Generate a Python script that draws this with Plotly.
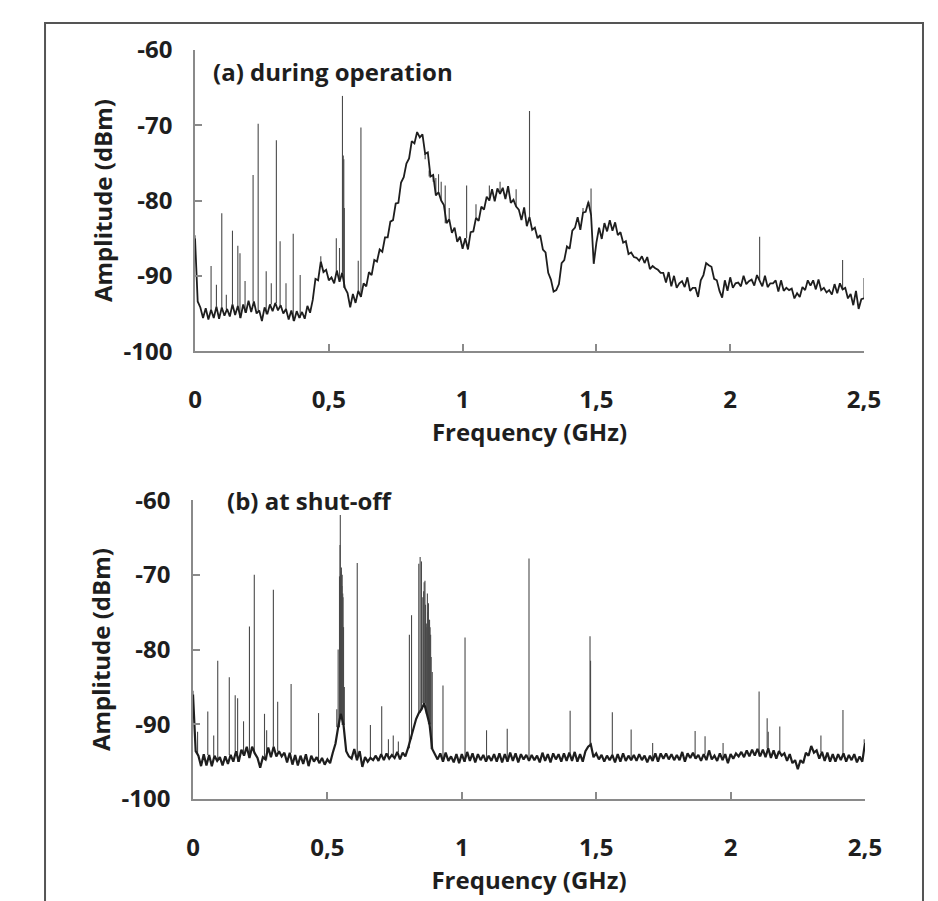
import plotly.graph_objects as go
from plotly.subplots import make_subplots

# sweep grid of the analyser traces (GHz)
FREQ_STEP = 0.01

# (a) during operation, broadband trace (dBm), one value per FREQ_STEP from 0 to 2.5 GHz
op_trace = [
    -85.0, -93.4, -94.2, -95.6, -94.3, -95.8, -94.5, -95.6, -94.1, -95.7,
    -94.2, -95.3, -94.4, -95.4, -93.8, -95.2, -94.0, -95.6, -93.8, -94.9,
    -93.3, -94.8, -93.4, -95.0, -94.6, -96.0, -94.2, -95.1, -93.8, -94.7,
    -93.6, -94.6, -93.9, -95.0, -94.4, -95.8, -94.6, -96.0, -94.7, -95.6,
    -94.8, -95.7, -94.0, -94.9, -93.2, -90.4, -90.6, -88.1, -89.5, -89.2,
    -90.6, -90.2, -91.0, -89.3, -90.8, -89.6, -91.6, -92.3, -94.2, -92.4,
    -93.6, -92.0, -92.8, -91.0, -91.4, -89.5, -89.9, -87.9, -88.1, -86.5,
    -86.8, -84.9, -84.9, -82.8, -82.6, -80.4, -80.3, -77.6, -76.9, -75.1,
    -74.4, -72.1, -72.4, -70.9, -71.6, -71.2, -73.8, -73.6, -76.8, -76.6,
    -79.3, -78.9, -80.0, -80.6, -83.0, -82.5, -84.3, -83.6, -85.5, -84.8,
    -86.4, -85.0, -86.5, -84.2, -84.1, -82.3, -82.7, -80.8, -81.2, -79.5,
    -80.0, -78.5, -80.1, -78.4, -79.1, -78.3, -79.8, -78.1, -80.3, -79.9,
    -80.8, -81.2, -82.6, -80.9, -83.4, -82.2, -83.9, -83.6, -85.0, -84.6,
    -86.5, -86.9, -89.6, -90.5, -92.1, -91.9, -91.1, -88.3, -87.9, -86.1,
    -86.4, -84.0, -83.6, -82.2, -83.9, -81.6, -81.5, -80.2, -81.9, -88.4,
    -85.6, -83.6, -85.1, -83.0, -84.1, -82.6, -84.0, -82.9, -84.6, -84.2,
    -85.6, -85.4, -87.1, -86.9, -87.5, -87.6, -88.0, -87.4, -88.3, -87.5,
    -89.1, -88.7, -89.0, -89.2, -89.6, -89.6, -90.9, -89.5, -91.4, -90.0,
    -91.6, -91.0, -90.7, -91.5, -90.2, -92.0, -91.6, -91.6, -92.8, -90.6,
    -89.9, -88.3, -88.6, -88.8, -90.4, -90.6, -92.0, -92.9, -90.6, -92.0,
    -90.2, -91.6, -91.0, -90.9, -91.4, -90.0, -91.1, -90.7, -90.5, -91.3,
    -89.9, -90.6, -91.4, -90.0, -91.5, -91.0, -91.0, -90.6, -92.1, -90.6,
    -92.0, -91.6, -91.9, -91.7, -93.0, -92.3, -92.8, -91.5, -91.9, -90.6,
    -91.3, -90.6, -91.8, -90.5, -91.9, -91.6, -92.2, -91.9, -92.5, -91.1,
    -92.3, -91.0, -91.8, -91.6, -93.0, -92.4, -93.9, -92.0, -94.4, -93.1,
    -93.0,
]

# (a) narrow spurious lines: frequency (GHz) and peak (dBm)
op_spike_f = [0.0, 0.06, 0.08, 0.10, 0.117, 0.14, 0.16, 0.168, 0.187, 0.217,
              0.236, 0.266, 0.285, 0.304, 0.318, 0.34, 0.367, 0.393, 0.47, 0.528,
              0.54, 0.551, 0.554, 0.556, 0.558, 0.61, 0.62, 0.86, 0.875, 0.89,
              0.90, 0.91, 0.92, 0.935, 0.95, 1.015, 1.05, 1.10, 1.14, 1.20,
              1.25, 1.45, 1.47, 1.48, 2.11, 2.42, 2.5]
op_spike_top = [-84.6, -88.7, -91.2, -81.7, -92.5, -84.0, -86.0, -87.0, -90.7, -76.6,
                -69.8, -89.4, -91.0, -72.0, -85.4, -91.0, -84.4, -89.9, -87.4, -85.0,
                -86.3, -66.1, -74.0, -74.5, -81.0, -88.0, -70.3, -74.5, -76.0, -77.5,
                -77.0, -76.5, -77.5, -78.0, -81.0, -78.0, -80.5, -78.0, -77.5, -78.5,
                -68.1, -81.0, -80.0, -78.4, -84.8, -87.9, -90.3]

# (b) at shut-off, noise floor trace (dBm)
off_trace = [
    -86.0, -93.6, -94.2, -95.6, -94.0, -95.5, -94.1, -95.6, -94.2, -94.9,
    -94.4, -95.5, -94.3, -95.3, -94.1, -95.0, -93.6, -95.0, -93.4, -94.2,
    -93.0, -94.5, -93.0, -93.9, -94.5, -95.8, -94.4, -94.7, -93.1, -94.4,
    -93.0, -94.3, -93.6, -94.3, -93.8, -95.1, -93.8, -95.4, -94.1, -95.5,
    -94.2, -95.3, -94.0, -95.6, -94.2, -95.0, -94.4, -95.2, -94.5, -95.4,
    -94.7, -95.2, -93.8, -92.6, -90.4, -88.6, -90.1, -93.6, -94.3, -94.6,
    -93.3, -94.8, -93.6, -95.7, -94.4, -95.0, -94.5, -94.8, -94.2, -94.9,
    -94.0, -94.8, -93.9, -94.6, -94.1, -94.5, -93.7, -94.7, -93.8, -94.3,
    -93.2, -92.0, -90.5, -89.3, -88.5, -88.0, -87.2, -88.6, -90.0, -93.3,
    -94.0, -94.7, -93.9, -95.0, -93.8, -94.9, -94.3, -95.1, -94.0, -95.2,
    -94.0, -95.0, -93.7, -94.9, -93.9, -95.1, -94.0, -94.8, -94.1, -95.0,
    -94.2, -94.9, -94.0, -95.0, -93.9, -95.1, -94.0, -95.0, -93.8, -94.9,
    -93.9, -95.1, -94.0, -94.7, -94.1, -94.9, -94.1, -94.8, -94.2, -95.1,
    -93.8, -94.9, -94.0, -95.1, -93.9, -94.7, -94.0, -95.0, -93.9, -94.9,
    -93.8, -94.9, -93.7, -95.0, -94.0, -95.0, -93.6, -93.0, -92.7, -94.4,
    -93.9, -94.7, -94.1, -95.0, -94.2, -94.8, -94.1, -95.1, -94.0, -95.0,
    -93.9, -94.9, -94.2, -94.8, -94.1, -94.9, -94.0, -94.8, -94.2, -95.1,
    -94.2, -94.9, -93.9, -95.0, -93.9, -94.6, -93.9, -94.7, -94.0, -94.8,
    -94.1, -94.8, -93.7, -95.0, -93.9, -94.5, -93.8, -94.6, -94.1, -94.9,
    -94.0, -94.8, -93.5, -94.7, -94.2, -94.9, -93.9, -94.8, -94.0, -95.2,
    -94.0, -94.6, -93.9, -94.3, -93.7, -94.4, -93.5, -94.3, -93.4, -94.2,
    -93.3, -94.3, -93.4, -94.4, -93.2, -94.5, -93.5, -94.6, -93.6, -94.2,
    -93.9, -94.9, -94.0, -95.2, -94.8, -96.0, -94.8, -95.2, -93.8, -94.2,
    -92.9, -93.8, -93.5, -94.6, -93.7, -94.9, -93.8, -95.0, -94.0, -95.0,
    -94.0, -94.8, -93.9, -95.0, -94.1, -94.8, -94.0, -95.1, -94.3, -95.0,
    -92.5,
]

off_spike_f = [0.0, 0.017, 0.055, 0.077, 0.092, 0.135, 0.157, 0.166, 0.188, 0.21,
               0.228, 0.266, 0.274, 0.299, 0.315, 0.365, 0.467, 0.535, 0.540, 0.545,
               0.547, 0.548, 0.549, 0.551, 0.552, 0.554, 0.555, 0.557, 0.558, 0.560,
               0.563, 0.611, 0.66, 0.702, 0.727, 0.745, 0.764, 0.805, 0.813, 0.84,
               0.845, 0.85, 0.855, 0.858, 0.86, 0.863, 0.865, 0.868, 0.87, 0.872,
               0.874, 0.876, 0.878, 0.88, 0.882, 0.884, 0.886, 0.89, 0.93, 1.012,
               1.092, 1.169, 1.25, 1.403, 1.477, 1.479, 1.56, 1.63, 1.71, 1.868,
               1.905, 1.972, 2.106, 2.136, 2.14, 2.183, 2.336, 2.418, 2.497]
off_spike_top = [-85.5, -91.0, -88.3, -91.5, -81.5, -83.7, -86.1, -86.5, -89.6, -76.9,
                 -70.0, -88.6, -90.8, -72.0, -87.0, -84.6, -88.5, -88.0, -80.0, -70.2,
                 -66.0, -62.0, -70.0, -69.5, -69.0, -71.5, -70.0, -72.5, -73.0, -77.0,
                 -85.0, -68.4, -90.1, -87.6, -92.0, -91.5, -92.3, -78.0, -75.4, -68.5,
                 -67.6, -68.2, -73.0, -72.2, -71.0, -70.8, -74.0, -76.5, -77.0, -72.5,
                 -75.0, -73.8, -77.5, -76.0, -77.0, -78.0, -81.0, -83.0, -84.8, -78.4,
                 -90.8, -90.6, -67.8, -88.2, -78.2, -81.5, -88.4, -90.7, -92.5, -90.9,
                 -91.6, -92.5, -85.6, -89.2, -91.0, -90.3, -91.5, -88.1, -92.0]

x_ticks = [0, 0.5, 1, 1.5, 2, 2.5]
x_tick_text = ["0", "0,5", "1", "1,5", "2", "2,5"]
y_ticks = [-100, -90, -80, -70, -60]
y_tick_text = ["-100", "-90", "-80", "-70", "-60"]

FONT = "Open Sans"
AXIS_GREY = "#8a8a8a"
INK = "#1e1e1e"


def spike_lines(freqs, tops, trace):
    # vertical line from the trace level up to the spike peak
    xs, ys = [], []
    for f, t in zip(freqs, tops):
        i = min(int(round(f / FREQ_STEP)), len(trace) - 1)
        xs += [f, f, None]
        ys += [trace[i], t, None]
    return xs, ys


freq = [round(i * FREQ_STEP, 2) for i in range(len(op_trace))]

fig = make_subplots(rows=2, cols=1)

for row, trace, sf, st, lw in [(1, op_trace, op_spike_f, op_spike_top, 1.8),
                               (2, off_trace, off_spike_f, off_spike_top, 2.2)]:
    sx, sy = spike_lines(sf, st, trace)
    fig.add_trace(go.Scatter(x=sx, y=sy, mode='lines',
                             line=dict(color='#4a4a4a', width=1.1),
                             hoverinfo='skip', showlegend=False), row=row, col=1)
    fig.add_trace(go.Scatter(x=freq, y=trace, mode='lines',
                             line=dict(color=INK, width=lw),
                             showlegend=False), row=row, col=1)

axis_font = dict(family=FONT, size=24, color=INK, weight='bold')

fig.update_xaxes(range=[0, 2.5], tickvals=x_ticks, ticktext=x_tick_text,
                 showline=True, linecolor=AXIS_GREY, linewidth=1.5,
                 ticks='inside', ticklen=7, tickcolor=AXIS_GREY, tickwidth=1.5,
                 showgrid=False, zeroline=False, tickfont=axis_font,
                 ticklabelstandoff=26,
                 title=dict(text='Frequency (GHz)', font=axis_font, standoff=10))
fig.update_yaxes(range=[-100, -60], tickvals=y_ticks, ticktext=y_tick_text,
                 showline=True, linecolor=AXIS_GREY, linewidth=1.5,
                 ticks='inside', ticklen=7, tickcolor=AXIS_GREY, tickwidth=1.5,
                 showgrid=False, zeroline=False, tickfont=axis_font,
                 ticklabelstandoff=16,
                 title=dict(text='Amplitude (dBm)', font=axis_font, standoff=4))

fig.update_layout(
    width=938, height=901,
    margin=dict(l=185, r=81, t=42, b=110),
    paper_bgcolor='white', plot_bgcolor='white',
    xaxis=dict(domain=[0.003, 0.9985]),
    yaxis=dict(domain=[0.598, 1.0]),
    xaxis2=dict(domain=[0.0, 1.0]),
    yaxis2=dict(domain=[0.0, 0.399]),
)

fig.add_annotation(x=0.06, y=-62.8, xref='x', yref='y', text='(a) during operation',
                   showarrow=False, xanchor='left', yanchor='middle', font=axis_font)
fig.add_annotation(x=0.12, y=-60.1, xref='x2', yref='y2', text='(b) at shut-off',
                   showarrow=False, xanchor='left', yanchor='middle', font=axis_font)

# outer frame, open at the bottom edge
fig.add_shape(type='rect', xref='paper', yref='paper',
              x0=-0.2202, x1=1.0863, y0=-0.2, y1=1.036,
              line=dict(color='#555555', width=2))

fig.write_html("out.html")
